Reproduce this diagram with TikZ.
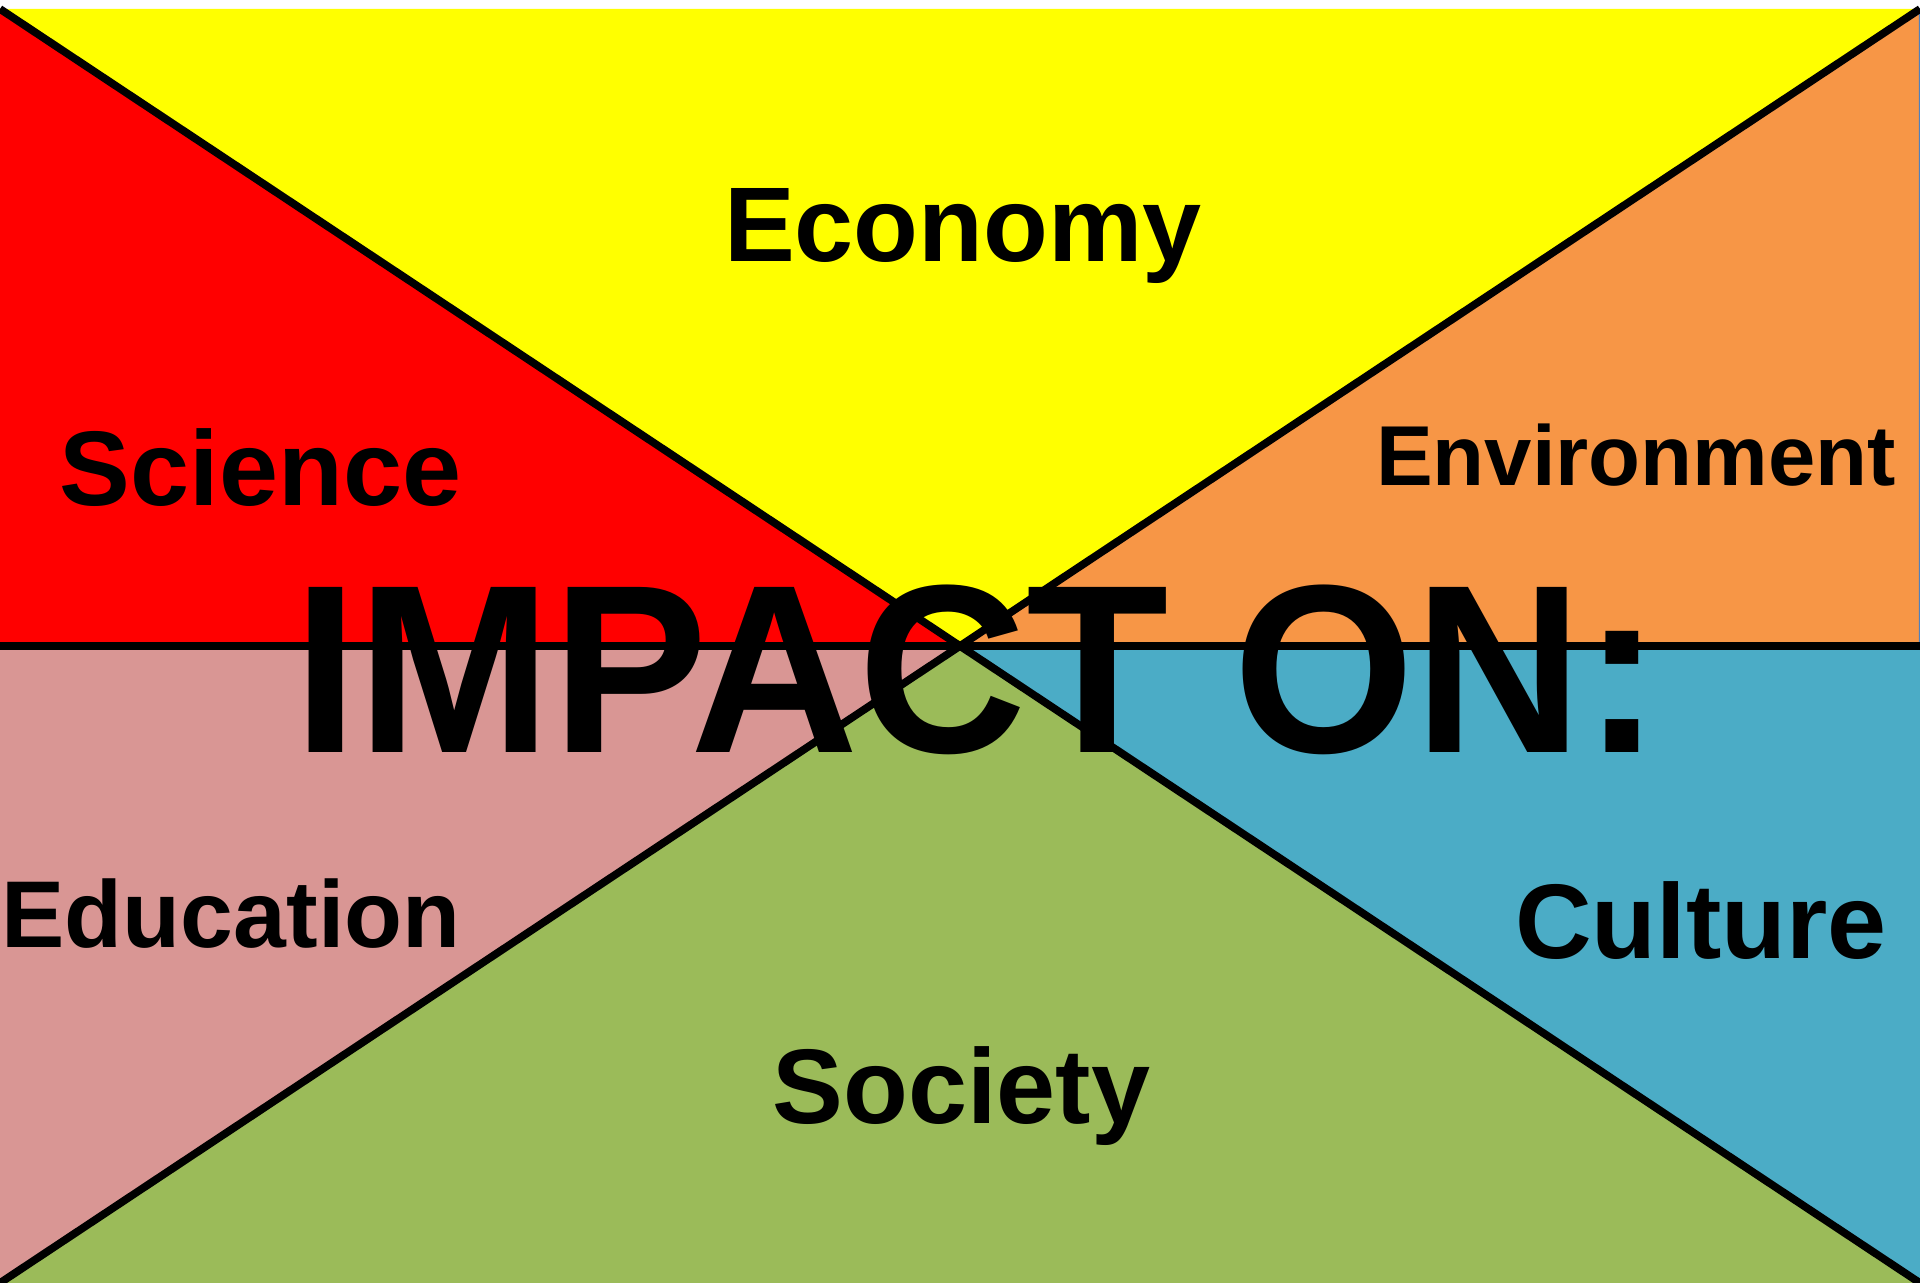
\documentclass[tikz,border=0pt]{standalone}
\usepackage{fontspec}
\setmainfont{Liberation Sans}
\usepackage{xcolor}
\usetikzlibrary{positioning,calc}

\definecolor{econ}{HTML}{FFFF00}
\definecolor{scien}{HTML}{FF0000}
\definecolor{envir}{HTML}{F79646}
\definecolor{educ}{HTML}{D99694}
\definecolor{cult}{HTML}{4BACC6}
\definecolor{soc}{HTML}{9BBB59}
\definecolor{outl}{HTML}{4F81BD}

\tikzset{divide/.style={draw=black, line width=2.2pt},
  lbl/.style={anchor=base, inner sep=0pt, font=\bfseries}}

\begin{document}
\begin{tikzpicture}
        \useasboundingbox[fill=white] (0,0) rectangle (19.2,12.83);
        \coordinate (tl) at (0,12.74); \coordinate (tr) at (19.2,12.74);
        \coordinate (bl) at (0,0); \coordinate (br) at (19.2,0);
        \coordinate (ml) at (0,6.37); \coordinate (mr) at (19.2,6.37);
        \coordinate (c) at (9.6,6.37);
        \foreach \a/\b/\col in {tl/tr/econ,ml/tl/scien,bl/ml/educ,mr/br/cult,br/bl/soc}{\fill[\col] (\a) -- (\b) -- (c) -- cycle;}
        \filldraw[fill=envir, draw=outl, line width=0.6pt] (tr) -- (mr) -- (c) -- cycle;
        \draw[divide] (tl) -- (br);
        \draw[divide] (tr) -- (bl);
        \draw[divide] (ml) -- (mr);
        \foreach \x/\y/\sz/\name in {9.63/10.21/30.2/Economy,2.605/7.77/30.2/Science,16.36/7.97/24.2/Environment,2.31/3.35/27/Education,17.01/3.24/30.2/Culture,9.615/1.59/30.2/Society}{\node[lbl, font=\fontsize{\sz}{\sz}\selectfont\bfseries] (\name) at (\x,\y) {\name};}
        \node[lbl, font=\fontsize{66.3}{70}\selectfont\bfseries] (impact) at (9.77,5.30) {\scalebox{1}[1.03]{IMPACT ON:}};
\end{tikzpicture}
\end{document}
